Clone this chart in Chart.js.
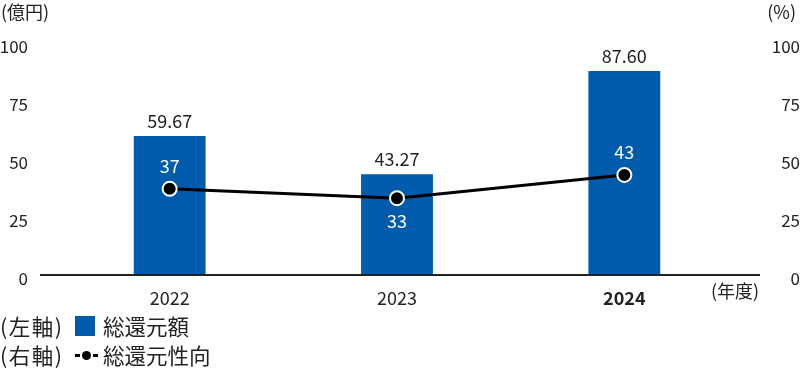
<!DOCTYPE html>
<html><head><meta charset="utf-8">
<script src="https://cdn.jsdelivr.net/npm/chart.js@4"></script>
<style>
html,body{margin:0;padding:0;background:#fff;}
#wrap{position:relative;width:800px;height:369px;}
#c{position:absolute;left:0;top:0;}
.leg{position:absolute;left:0;font-family:"Noto Sans CJK JP";font-size:21.5px;color:#222;line-height:26px;white-space:nowrap;}
.pre{letter-spacing:1.5px;}
.box{position:absolute;left:75px;top:3px;width:20px;height:20px;background:#005BAC;}
.t{position:absolute;left:103px;top:0;}
</style></head>
<body><div id="wrap"><canvas id="c" width="800" height="369"></canvas>
<div class="leg" style="top:313px"><span class="pre">(左軸)</span><span class="box"></span><span class="t">総還元額</span></div>
<div class="leg" style="top:342px"><span class="pre">(右軸)</span>
<span style="position:absolute;left:75px;top:12px;width:5px;height:3px;background:#000"></span>
<span style="position:absolute;left:82px;top:9px;width:9px;height:9px;border-radius:50%;background:#000"></span>
<span style="position:absolute;left:93px;top:12px;width:5px;height:3px;background:#000"></span>
<span class="t">総還元性向</span></div>
</div>
<script>
const categories = ["2022", "2023", "2024"];
const totalReturn = [59.67, 43.27, 87.60];
const payoutRatio = [37, 33, 43];
const totalReturnLabels = ["59.67", "43.27", "87.60"];
const yTicks = [0, 25, 50, 75, 100];

const FONT = '"Noto Sans CJK JP", "Noto Sans", sans-serif';
const BLUE = '#005BAC';

const extras = {
  id: 'extras',
  afterDraw(chart) {
    const ctx = chart.ctx;
    const y = chart.scales.y;
    const y0 = y.getPixelForValue(0);
    ctx.save();
    ctx.strokeStyle = '#222';
    ctx.lineWidth = 2;
    ctx.beginPath();
    ctx.moveTo(40, y0);
    ctx.lineTo(760, y0);
    ctx.stroke();
    ctx.fillStyle = '#222';
    ctx.font = '18px ' + FONT;
    ctx.textBaseline = 'middle';
    ctx.textAlign = 'left';
    ctx.fillText('(億円)', 1, 12);
    ctx.textAlign = 'right';
    ctx.fillText('(%)', 796, 12);
    ctx.textAlign = 'left';
    ctx.fillText('(年度)', 711, 291);
    // bar value labels
    ctx.font = '18px ' + FONT;
    ctx.textAlign = 'center';
    const bars = chart.getDatasetMeta(0).data;
    bars.forEach((b, i) => {
      ctx.fillStyle = '#222';
      ctx.fillText(totalReturnLabels[i], b.x, b.y - 15);
    });
    const pts = chart.getDatasetMeta(1).data;
    pts.forEach((p, i) => {
      ctx.fillStyle = '#fff';
      const below = i === 1;
      ctx.fillText(String(payoutRatio[i]), p.x, p.y + (below ? 23 : -23));
    });
    ctx.restore();
  }
};

new Chart(document.getElementById('c'), {
  data: {
    labels: categories,
    datasets: [
      { type: 'bar', label: '総還元額', data: totalReturn, backgroundColor: BLUE,
        yAxisID: 'y', barPercentage: 0.316, categoryPercentage: 1, order: 2 },
      { type: 'line', label: '総還元性向', data: payoutRatio, borderColor: '#000', borderWidth: 3,
        pointRadius: 7, pointBackgroundColor: '#000', pointBorderColor: '#fff', pointBorderWidth: 2,
        yAxisID: 'y1', order: 1, tension: 0 }
    ]
  },
  options: {
    responsive: false,
    animation: false,
    layout: { padding: { top: 39, bottom: 54, left: 0, right: 0 } },
    plugins: { legend: { display: false }, tooltip: { enabled: false } },
    scales: {
      x: {
        grid: { display: false }, border: { display: false },
        ticks: { color: '#222', padding: 4,
          font: (c) => ({ family: FONT, size: 18, weight: c.index === 2 ? 'bold' : 'normal' }) },
        afterFit: (s) => { s.height = 40; }
      },
      y: {
        position: 'left', min: 0, max: 100,
        grid: { display: false, drawTicks: false }, border: { display: false },
        afterBuildTicks: (s) => { s.ticks = yTicks.map(v => ({ value: v })); },
        ticks: { color: '#222', padding: 28, labelOffset: 4, font: { family: FONT, size: 17 } },
        afterFit: (s) => { s.width = 56; }
      },
      y1: {
        position: 'right', min: 0, max: 100,
        grid: { display: false, drawTicks: false }, border: { display: false },
        afterBuildTicks: (s) => { s.ticks = yTicks.map(v => ({ value: v })); },
        ticks: { color: '#222', padding: 32, labelOffset: 4, crossAlign: 'far', font: { family: FONT, size: 17 } },
        afterFit: (s) => { s.width = 62; }
      }
    }
  },
  plugins: [extras]
});
</script></body></html>
